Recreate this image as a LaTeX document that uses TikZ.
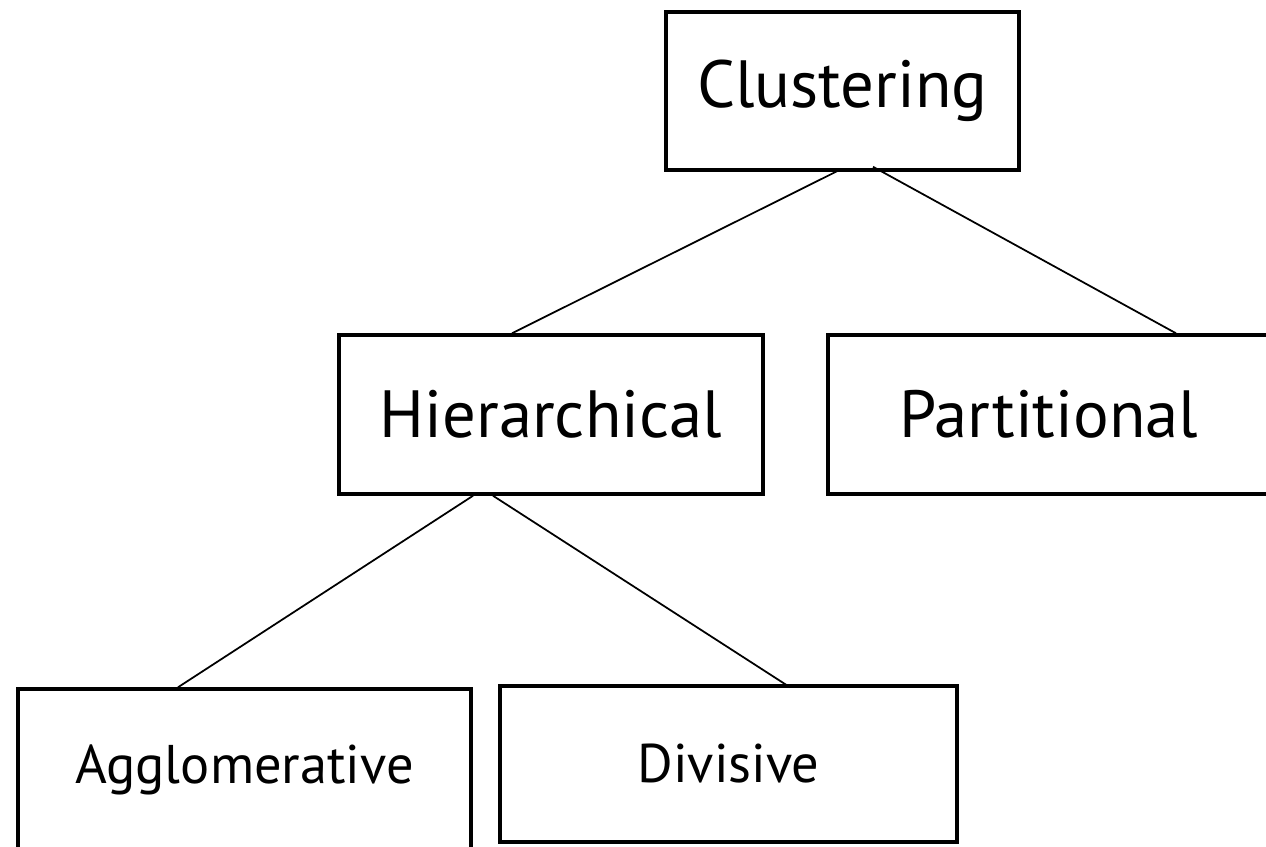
\documentclass[tikz,border=0pt]{standalone}
\usepackage{fontspec}
\setmainfont{PT Sans}

\begin{document}
\begin{tikzpicture}[x=0.02cm,y=-0.02cm,
  box/.style={draw,line width=2pt,inner sep=0pt,font=\fontsize{38}{40}\selectfont},
  smallbox/.style={box,font=\fontsize{31}{34}\selectfont},
  link/.style={line width=1pt}]
\clip (0,0) rectangle (1266,846);
\node [box,minimum width=7.06cm,minimum height=3.16cm] (clu) at (842.5,91) {Clustering};
\node [box,minimum width=8.48cm,minimum height=3.18cm] (hier) at (551,414.5) {Hierarchical};
\node [box,minimum width=8.84cm,minimum height=3.18cm] (part) at (1049,414.5) {Partitional};
\node [smallbox,minimum width=9.06cm,minimum height=3.22cm] (aggl) at (244.5,769.5) {Agglomerative};
\node [smallbox,minimum width=9.14cm,minimum height=3.12cm] (divi) at (728.5,764) {Divisive};

\draw [link] ([xshift=-0.05cm,yshift=0.04cm]clu.south) -- ([xshift=-0.78cm]hier.north);
\draw [link] ([xshift=0.61cm,yshift=0.1cm]clu.south) -- ([xshift=2.54cm]part.north);
\draw [link] ([xshift=-1.56cm]hier.south) -- ([xshift=-1.33cm]aggl.north);
\draw [link] ([xshift=-1.16cm]hier.south) -- ([xshift=1.23cm,yshift=-0.06cm]divi.north);
\end{tikzpicture}
\end{document}
